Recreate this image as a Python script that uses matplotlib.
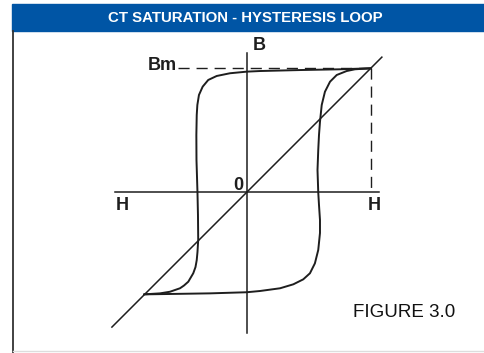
import matplotlib.pyplot as plt
from matplotlib.patches import Rectangle

# loop branches (H, B), tip of loop = (1, 1)
desc_h = [1.0, 0.752, 0.433, 0.107, 0.0, -0.135, -0.242, -0.310, -0.355, -0.385,
          -0.398, -0.403, -0.406, -0.405, -0.397, -0.393, -0.391, -0.397, -0.403,
          -0.413, -0.431, -0.471, -0.506, -0.538, -0.619, -0.699, -0.828]
desc_b = [1.0, 0.992, 0.986, 0.978, 0.973, 0.960, 0.938, 0.906, 0.852, 0.785,
          0.704, 0.623, 0.462, 0.260, 0.0, -0.183, -0.385, -0.482, -0.547,
          -0.603, -0.653, -0.721, -0.752, -0.774, -0.802, -0.815, -0.823]

asc_h = [-0.828, -0.619, -0.296, 0.0, 0.107, 0.269, 0.376, 0.456, 0.510, 0.550,
         0.577, 0.591, 0.591, 0.583, 0.577, 0.571, 0.577, 0.583, 0.591, 0.605,
         0.631, 0.672, 0.726, 0.806, 0.873, 1.0]
asc_b = [-0.823, -0.820, -0.815, -0.806, -0.796, -0.774, -0.742, -0.702, -0.653,
         -0.573, -0.465, -0.328, -0.223, -0.102, 0.0, 0.180, 0.341, 0.462, 0.569,
         0.704, 0.811, 0.892, 0.946, 0.978, 0.992, 1.0]

bm = 1.0
h_max = 1.0

plt.rcParams['lines.scale_dashes'] = False
fig = plt.figure(figsize=(4.85, 3.53), dpi=100)
ax = fig.add_axes([0, 0, 1, 1])
ax.set_xlim(-246.7 / 124, (485 - 246.7) / 124)
ax.set_ylim((192.3 - 353) / 124, 192.3 / 124)
ax.axis('off')

ink = '#1e1e1e'

# header bar and frame
ax.add_patch(Rectangle((12 / 485, 1 - 31 / 353), 1 - 12 / 485, 27 / 353,
                       transform=ax.transAxes, color='#0055a5', clip_on=False))
ax.text(245 / 485, 1 - 22.5 / 353, 'CT SATURATION - HYSTERESIS LOOP',
        transform=ax.transAxes, ha='center', va='baseline', color='white',
        fontsize=10.8, fontweight='bold', family='Liberation Sans')
ax.plot([13 / 485, 13 / 485], [0, 1 - 31 / 353], transform=ax.transAxes,
        color='#333333', lw=1.3, clip_on=False)
ax.plot([13 / 485, 1], [2 / 353, 2 / 353], transform=ax.transAxes,
        color='#dddddd', lw=1.0, clip_on=False)

# axes of the B-H plane
ax.plot([-1.062, 1.067], [0, 0], color=ink, lw=1.1)
ax.plot([0, 0], [-1.135, 1.126], color=ink, lw=1.1)
ax.plot([-1.087, 1.09], [-1.087, 1.09], color=ink, lw=1.1)

# Bm dashed guides
ax.plot([-0.554, h_max], [bm, bm], color=ink, lw=1.0, dashes=(8, 5))
ax.plot([h_max, h_max], [bm, 0], color=ink, lw=1.0, dashes=(8, 5))

# hysteresis loop
ax.plot(desc_h, desc_b, color=ink, lw=1.4, solid_capstyle='round')
ax.plot(asc_h, asc_b, color=ink, lw=1.4, solid_capstyle='round')

lab = dict(fontsize=13, fontweight='bold', color=ink, family='Liberation Sans',
           va='baseline')
ax.text(0.099, 1.148, 'B', ha='center', **lab)
ax.text(-0.562, 0.986, 'Bm', ha='right', **lab)
ax.text(-0.066, 0.019, '0', ha='center', **lab)
ax.text(-1.006, -0.143, 'H', ha='center', **lab)
ax.text(1.027, -0.143, 'H', ha='center', **lab)
ax.text(1.269, -1.006, 'FIGURE 3.0', ha='center', va='baseline', fontsize=13.5,
        color='#111111', family='Liberation Sans')

fig.savefig('out.png', dpi=100)
